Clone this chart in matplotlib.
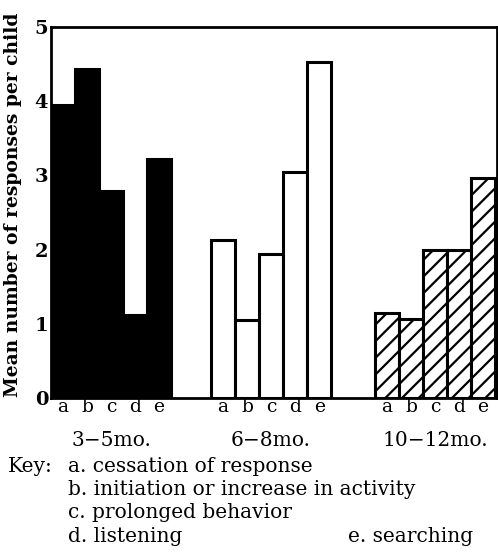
import numpy as np
import matplotlib
matplotlib.use("Agg")
import matplotlib.pyplot as plt

plt.rcParams['font.family'] = ['DejaVu Serif']
plt.rcParams['hatch.linewidth'] = 1.6

letters = ['a', 'b', 'c', 'd', 'e']
groups = ['3\u22125mo.', '6\u22128mo.', '10\u221212mo.']
vals_3_5 = [3.95, 4.44, 2.79, 1.12, 3.22]
vals_6_8 = [2.13, 1.05, 1.94, 3.04, 4.53]
vals_10_12 = [1.15, 1.06, 2.0, 2.0, 2.96]
key_lines = ['a. cessation of response', 'b. initiation or increase in activity',
             'c. prolonged behavior', 'd. listening']
key_last = 'e. searching'

fig = plt.figure(figsize=(4.98, 5.54), dpi=100)
ax = fig.add_axes([51/498, 156/554, 446/498, 371/554])

starts = [0, 6.67, 13.5]
styles = [dict(color='black', edgecolor='black'),
          dict(color='white', edgecolor='black'),
          dict(color='white', edgecolor='black', hatch='//')]
xt = []
for g, vals in enumerate([vals_3_5, vals_6_8, vals_10_12]):
    x = starts[g] + np.arange(5) + 0.5
    ax.bar(x, vals, width=1.0, linewidth=2.2, **styles[g])
    xt += list(x)
    ax.text(starts[g] + 2.5, -0.115, groups[g], transform=ax.get_xaxis_transform(),
            ha='center', va='center', fontsize=14.5)

ax.set_xlim(0, 18.58)
ax.set_ylim(0, 5)
ax.set_xticks(xt)
ax.set_xticklabels(letters * 3, fontsize=13.5)
ax.set_yticks(range(6))
ax.set_yticklabels([str(i) for i in range(6)], fontsize=14, fontweight='bold')
ax.tick_params(length=0, pad=2)
ax.tick_params(axis='x', pad=0)
for s in ax.spines.values():
    s.set_linewidth(2)
ax.set_ylabel('Mean number of responses per child', fontsize=13.5, fontweight='bold')
ax.yaxis.set_label_coords(-0.066, 0.52)

fig.text(8/498, 1 - 466/554, 'Key:', fontsize=14.5, va='center')
for i, t in enumerate(key_lines):
    fig.text(68/498, 1 - (466 + 23.5*i)/554, t, fontsize=14.5, va='center')
fig.text(348/498, 1 - 537/554, key_last, fontsize=14.5, va='center')

fig.savefig('out.png', dpi=100)
